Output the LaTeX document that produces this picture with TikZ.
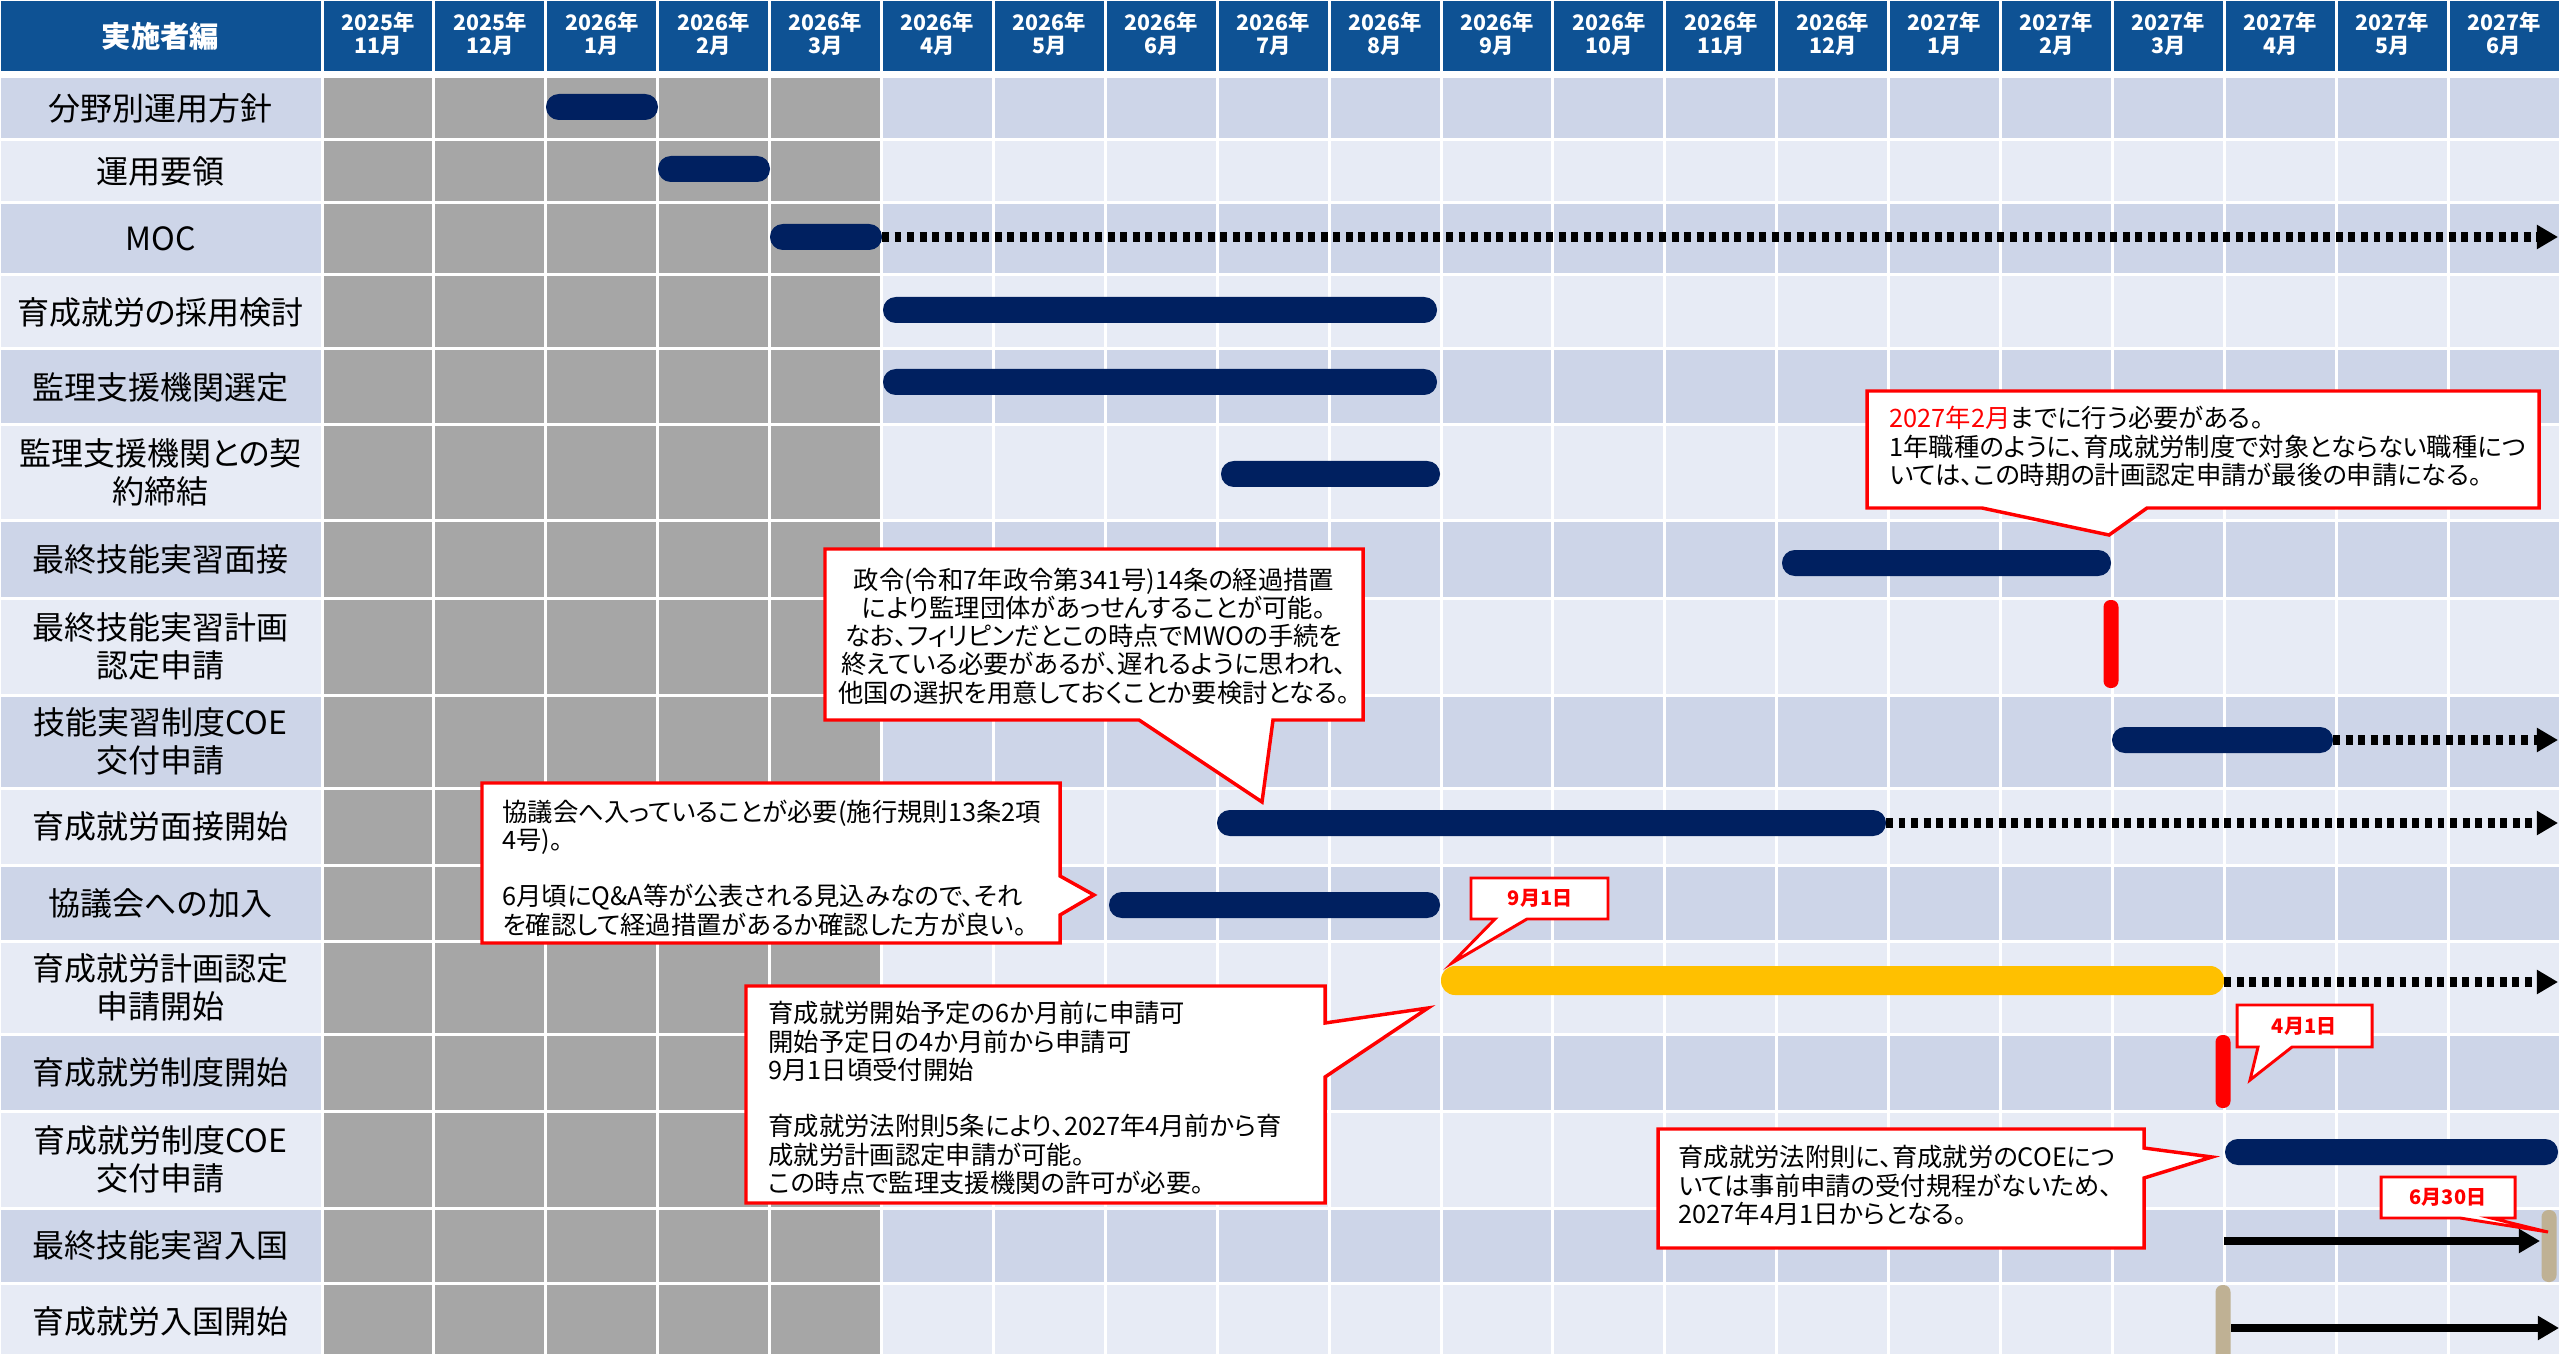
\documentclass[tikz,border=0pt]{standalone}
\usepackage{fontspec}
\setmainfont{Noto Sans CJK JP}[RawFeature=+palt]
\usetikzlibrary{arrows.meta}
\definecolor{hdrblue}{RGB}{14,82,148}
\definecolor{rowA}{RGB}{205,213,232}
\definecolor{rowB}{RGB}{231,235,245}
\definecolor{cellgray}{RGB}{166,166,166}
\definecolor{navy}{RGB}{0,32,96}
\definecolor{gold}{RGB}{255,192,0}
\definecolor{barTan}{RGB}{191,177,148}
\definecolor{alertred}{RGB}{255,0,0}
\newcommand\ganttbar[4]{\fill[#1,rounded corners=4.8pt] (#2,#4-13) rectangle (#3,#4+13);}
\newcommand\markbar[4]{\fill[#1,rounded corners=2.6pt] (#2-7.5,#3) rectangle (#2+7.5,#4);}
\begin{document}
\begin{tikzpicture}[x=0.375pt,y=-0.375pt,
  lbl/.style={align=center,font=\fontsize{12}{14.1}\selectfont,inner sep=0pt},
  hdr/.style={align=center,text=white,font=\bfseries\fontsize{8}{8.4}\selectfont,inner sep=0pt},
  note/.style={align=left,font=\fontsize{9.5}{10.6}\selectfont,inner sep=0pt,anchor=west},
  notec/.style={align=center,font=\fontsize{9.5}{10.6}\selectfont,inner sep=0pt},
  callout/.style={draw=alertred,fill=white,line width=1.3pt,line join=miter},
  smallcallout/.style={draw=alertred,fill=white,line width=1.1pt,line join=miter},
  tag/.style={text=alertred,font=\bfseries\fontsize{7.5}{9}\selectfont,inner sep=0pt},
  dotarrow/.style={line width=3.4pt,dash pattern=on 2.6pt off 2.1pt,-{Triangle[length=7.9pt,width=8.6pt]}},
  solidarrow/.style={line width=3.1pt,-{Triangle[length=7.9pt,width=8.6pt]}},
]
\useasboundingbox (0,0) rectangle (2560,1354);
\fill[white] (0,0) rectangle (2560,1354);

% header
\fill[hdrblue] (1,1) rectangle (320.5,71);
\node[hdr,font=\bfseries\fontsize{11}{13}\selectfont] (H0) at (160.5,36) {実施者編};
\foreach \yr/\mo [count=\k from 0] in {2025/11,2025/12,2026/1,2026/2,2026/3,2026/4,2026/5,2026/6,2026/7,2026/8,2026/9,2026/10,2026/11,2026/12,2027/1,2027/2,2027/3,2027/4,2027/5,2027/6} {
  \fill[hdrblue] ({322+111.9*\k+1.5},1) rectangle ({322+111.9*(\k+1)-1.5},71);
  \node[hdr] (M\k) at ({322+111.9*(\k+0.5)},34) {\yr 年\\\mo 月};
}

% rows
\foreach \t/\b/\c/\txt [count=\r] in {
 77/140/rowA/{分野別運用方針},
 140/203/rowB/{運用要領},
 203/275/rowA/{MOC},
 275/349/rowB/{育成就労の採用検討},
 349/425/rowA/{監理支援機関選定},
 425/520/rowB/{監理支援機関との契\\約締結},
 520/598/rowA/{最終技能実習面接},
 598/695/rowB/{最終技能実習計画\\認定申請},
 695/788/rowA/{技能実習制度COE\\交付申請},
 788/865/rowB/{育成就労面接開始},
 865/941/rowA/{協議会への加入},
 941/1034/rowB/{育成就労計画認定\\申請開始},
 1034/1111/rowA/{育成就労制度開始},
 1111/1208/rowB/{育成就労制度COE\\交付申請},
 1208/1283/rowA/{最終技能実習入国},
 1283/1360/rowB/{育成就労入国開始}}
{
  \fill[\c] (1,\t+1.5) rectangle (320.5,\b-1.5);
  \node[lbl] (L\r) at (160.5,{(\t+\b)/2}) {\txt};
  \foreach \i in {0,...,19} {
    \ifnum\i<5 \def\cc{cellgray}\else\def\cc{\c}\fi
    \fill[\cc] ({322+111.9*\i+1.5},\t+1.5) rectangle ({322+111.9*(\i+1)-1.5},\b-1.5);
  }
}

% bars
\ganttbar{navy}{546}{658}{107}
\ganttbar{navy}{658}{770}{169}
\ganttbar{navy}{770}{882}{237}
\coordinate (mocEnd) at (882,237); \coordinate (mocTip) at (2558,237);
\draw[dotarrow] (mocEnd) -- (mocTip);
\ganttbar{navy}{883}{1437}{310}
\ganttbar{navy}{883}{1437}{382}
\ganttbar{navy}{1221}{1440}{474}
\ganttbar{navy}{1782}{2111}{563}
\markbar{alertred}{2111}{600}{688}
\ganttbar{navy}{2112}{2333}{740}
\coordinate (coeEnd) at (2333,740); \coordinate (coeTip) at (2558,740);
\draw[dotarrow] (coeEnd) -- (coeTip);
\ganttbar{navy}{1217}{1886}{823}
\coordinate (ikuEnd) at (1886,823); \coordinate (ikuTip) at (2558,823);
\draw[dotarrow] (ikuEnd) -- (ikuTip);
\ganttbar{navy}{1109}{1440}{905}
\fill[gold,rounded corners=5.2pt] (1441,966) rectangle (2224,995);
\coordinate (planEnd) at (2224,982); \coordinate (planTip) at (2558,982);
\draw[dotarrow] (planEnd) -- (planTip);
\markbar{alertred}{2223}{1035}{1108}
\ganttbar{navy}{2225}{2558}{1152}
\coordinate (entA) at (2224,1241); \coordinate (entAtip) at (2540,1241);
\draw[solidarrow] (entA) -- (entAtip);
\markbar{barTan}{2549}{1210}{1282}
\markbar{barTan}{2223}{1285}{1380}
\coordinate (entB) at (2231,1328); \coordinate (entBtip) at (2559,1328);
\draw[solidarrow] (entB) -- (entBtip);

% callout A
\coordinate (tipA) at (2109,535);
\draw[callout] (1867,391) -- (2539,391) -- (2539,508) -- (2147,508) -- (tipA) -- (1982,508) -- (1867,508) -- cycle;
\node[note] (nA) at (1889,446.5) {{\color{alertred}2027年2月}までに行う必要がある。\\1年職種のように、育成就労制度で対象とならない職種につ\\いては、この時期の計画認定申請が最後の申請になる。};

% callout B
\coordinate (tipB) at (1262,802);
\draw[callout] (825,549) -- (1363,549) -- (1363,720) -- (1273,720) -- (tipB) -- (1139,720) -- (825,720) -- cycle;
\node[notec] (nB) at (1094,636) {政令(令和7年政令第341号)14条の経過措置\\により監理団体があっせんすることが可能。\\なお、フィリピンだとこの時点でMWOの手続を\\終えている必要があるが、遅れるように思われ、\\他国の選択を用意しておくことか要検討となる。};

% callout C
\coordinate (tipC) at (1094,895);
\draw[callout] (482,783) -- (1060,783) -- (1060,876) -- (tipC) -- (1060,915) -- (1060,943) -- (482,943) -- cycle;
\node[note] (nC) at (502,868) {協議会へ入っていることが必要(施行規則13条2項\\4号)。\\[10.6pt]6月頃にQ\&A等が公表される見込みなので、それ\\を確認して経過措置があるか確認した方が良い。};

% callout D
\coordinate (tipD) at (1428,1008);
\draw[callout] (746,986) -- (1325,986) -- (1325,1023) -- (tipD) -- (1325,1077) -- (1325,1203) -- (746,1203) -- cycle;
\node[note] (nD) at (768,1098) {育成就労開始予定の6か月前に申請可\\開始予定日の4か月前から申請可\\9月1日頃受付開始\\[10.6pt]育成就労法附則5条により、2027年4月前から育\\成就労計画認定申請が可能。\\この時点で監理支援機関の許可が必要。};

% callout E
\coordinate (tipE) at (2212,1157);
\draw[callout] (1658,1129) -- (2144,1129) -- (2144,1148) -- (tipE) -- (2144,1178) -- (2144,1248) -- (1658,1248) -- cycle;
\node[note] (nE) at (1678,1185.5) {育成就労法附則に、育成就労のCOEにつ\\いては事前申請の受付規程がないため、\\2027年4月1日からとなる。};

% small date callouts
\coordinate (tipS1) at (1452,963);
\draw[smallcallout] (1471,878) -- (1608,878) -- (1608,919) -- (1527,919) -- (tipS1) -- (1495,919) -- (1471,919) -- cycle;
\node[tag] (S1) at (1540,898.5) {9月1日};
\coordinate (tipS2) at (2250,1080);
\draw[smallcallout] (2237,1005) -- (2372,1005) -- (2372,1047) -- (2292,1047) -- (tipS2) -- (2258,1047) -- (2237,1047) -- cycle;
\node[tag] (S2) at (2304,1026) {4月1日};
\coordinate (tipS3) at (2548,1232);
\draw[smallcallout] (2381,1177) -- (2515,1177) -- (2515,1218) -- (2491,1218) -- (tipS3) -- (2460,1218) -- (2381,1218) -- cycle;
\node[tag] (S3) at (2448,1197.5) {6月30日};
\end{tikzpicture}
\end{document}
